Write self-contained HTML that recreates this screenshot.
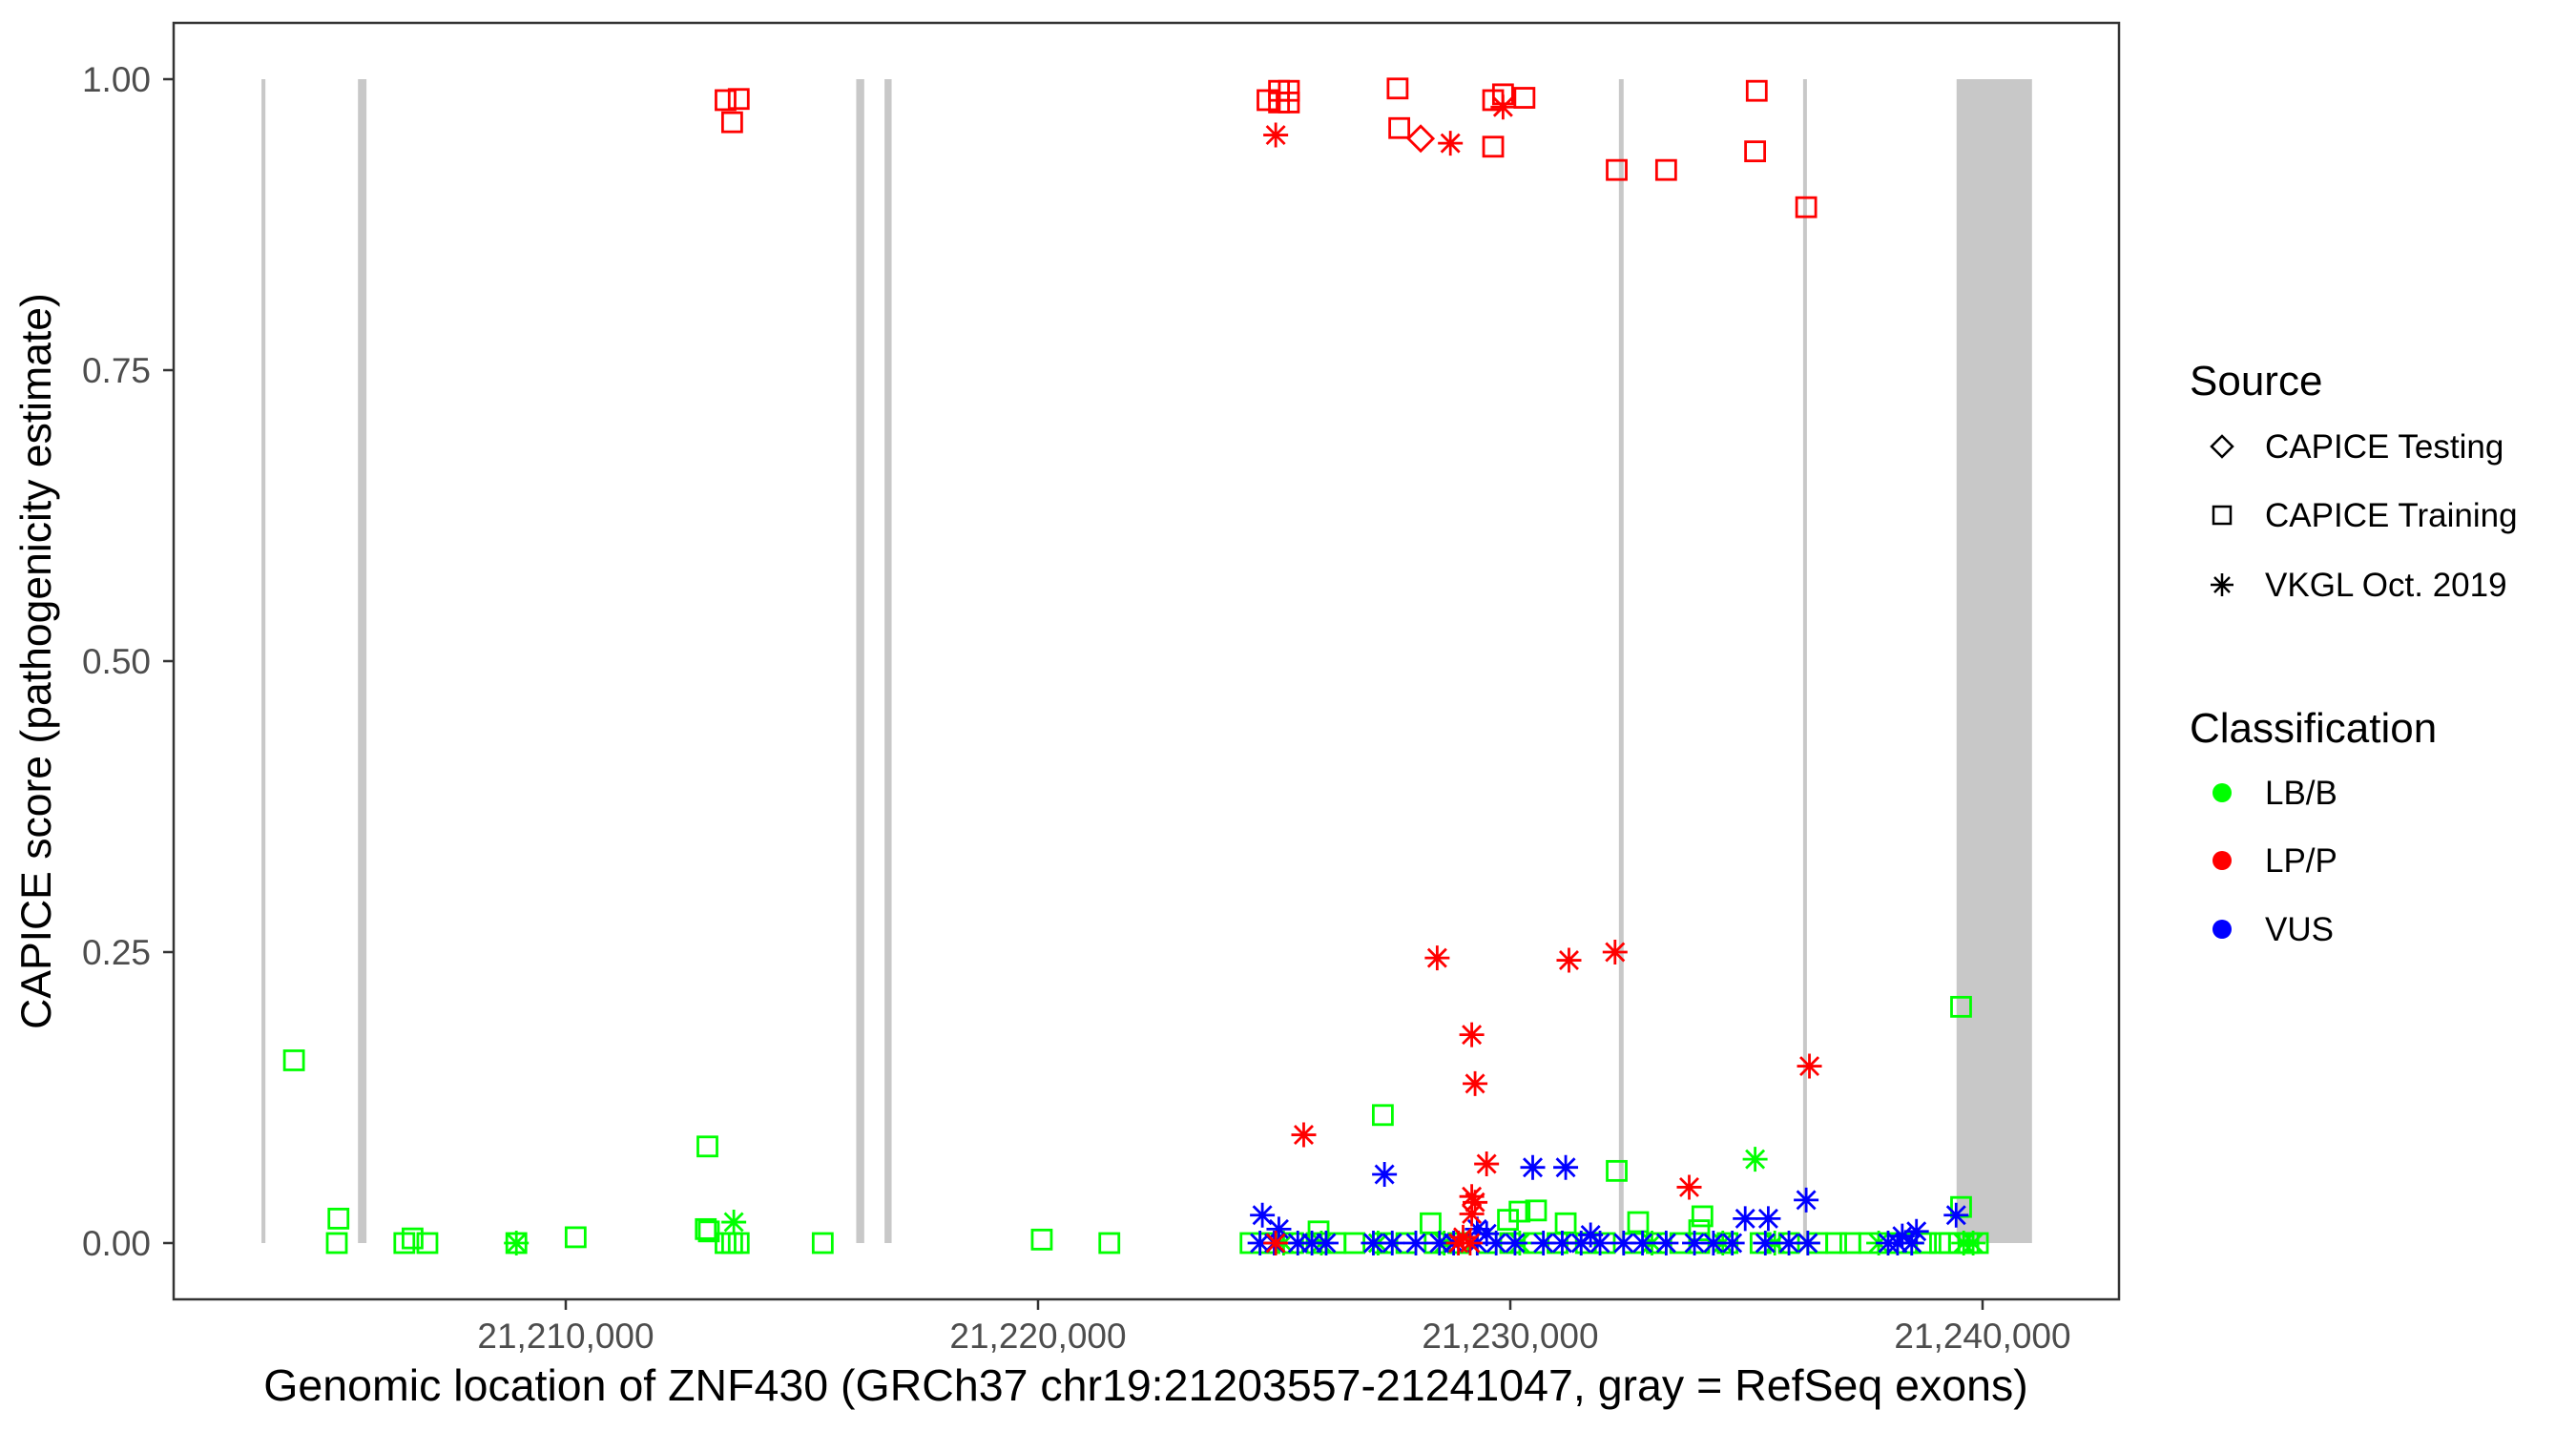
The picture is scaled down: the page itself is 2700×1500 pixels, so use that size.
<!DOCTYPE html>
<html><head><meta charset="utf-8"><style>
html,body{margin:0;padding:0;background:#fff;}
svg{display:block;font-family:"Liberation Sans",Arial,sans-serif;}
</style></head><body>
<svg id="chart" width="2700" height="1500" viewBox="0 0 2700 1500" xmlns="http://www.w3.org/2000/svg">
<rect x="0" y="0" width="2700" height="1500" fill="#fff"/>
<g id="exons"></g>
<g id="points"></g>
<rect x="182" y="24" width="2039" height="1338" fill="none" stroke="#333" stroke-width="2.5"/>
<g id="yaxis"></g>
<g id="xaxis"></g>
<text x="1201" y="1468" font-size="46.5" text-anchor="middle" fill="#000">Genomic location of ZNF430 (GRCh37 chr19:21203557-21241047, gray = RefSeq exons)</text>
<text transform="translate(53,693) rotate(-90)" font-size="44.5" text-anchor="middle" fill="#000">CAPICE score (pathogenicity estimate)</text>
<g>
<text x="2295" y="414" font-size="44" fill="#000">Source</text>
<path d="M2329 457 L2340 468 L2329 479 L2318 468 Z" fill="none" stroke="#000" stroke-width="2.5"/>
<text x="2374" y="480" font-size="35" fill="#000">CAPICE Testing</text>
<rect x="2320" y="531" width="18" height="18" fill="none" stroke="#000" stroke-width="2.5"/>
<text x="2374" y="552" font-size="35" fill="#000">CAPICE Training</text>
<path d="M2317 613 H2341 M2329 601 V625 M2321 605 L2337 621 M2337 605 L2321 621" stroke="#000" stroke-width="2.5"/>
<text x="2374" y="625" font-size="35" fill="#000">VKGL Oct. 2019</text>
<text x="2295" y="778" font-size="44" fill="#000">Classification</text>
<circle cx="2329" cy="831" r="10" fill="#00ff00"/>
<text x="2374" y="843" font-size="35" fill="#000">LB/B</text>
<circle cx="2329" cy="902" r="10" fill="#ff0000"/>
<text x="2374" y="914" font-size="35" fill="#000">LP/P</text>
<circle cx="2329" cy="974" r="10" fill="#0000ff"/>
<text x="2374" y="986" font-size="35" fill="#000">VUS</text>
</g>
</svg>
<script>
// ---- data ----
const exonStarts = [21203557, 21205600, 21216150, 21216750, 21232300, 21236200, 21239450];
const exonEnds   = [21203640, 21205780, 21216320, 21216900, 21232400, 21236260, 21241047];
const xTickValues = [21210000, 21220000, 21230000, 21240000];
const xTickLabels = ["21,210,000", "21,220,000", "21,230,000", "21,240,000"];
const yTickValues = [0, 0.25, 0.5, 0.75, 1];
const yTickLabels = ["0.00", "0.25", "0.50", "0.75", "1.00"];

// CAPICE Training, LB/B (squares, green)
const trainBenignPos = [21204245,21205187,21205152,21206582,21206756,21207070,21208954,21210209,21212965,21213000,21213030,21213383,21213523,21213662,21215441,21220080,21221510,21227301,21232253,21239545,21239545,21228312,21230196,21230545,21229951,21231173,21232707,21234067,21234000,21225940,
21224500,21224900,21225400,21225900,21226300,21226700,21227300,21227800,21228400,21228900,21229500,21230000,21230500,21231000,21231600,21232000,21232600,21233100,21233600,21234000,21234600,21235300,21235900,21236500,21236900,21237200,21237600,21238000,21238400,21238800,21239100,21239300,21239500,21239700,21239900];
const trainBenignScore = [0.157,0.021,0.0,0.0,0.004,0.0,0.0,0.005,0.012,0.083,0.01,0.0,0.0,0.0,0.0,0.003,0.0,0.11,0.062,0.203,0.031,0.017,0.027,0.028,0.02,0.017,0.018,0.023,0.011,0.01,
0,0,0,0,0,0,0,0,0,0,0,0,0,0,0,0,0,0,0,0,0,0,0,0,0,0,0,0,0,0,0,0,0,0,0];
// CAPICE Training, LP/P (squares, red)
const trainPathoPos = [21213383,21213523,21213662,21224859,21225103,21225312,21225312,21225103,21227614,21227649,21229637,21229846,21229637,21230300,21232253,21233300,21235218,21235184,21236265];
const trainPathoScore = [0.982,0.963,0.983,0.982,0.99,0.99,0.98,0.98,0.992,0.958,0.982,0.987,0.942,0.984,0.922,0.922,0.99,0.938,0.89];
// CAPICE Testing, LP/P (diamond, red)
const testPathoPos = [21228103];
const testPathoScore = [0.949];
// VKGL, LP/P (asterisk, red)
const vkglPathoPos = [21225033,21228731,21229846,21228452,21231242,21232218,21229184,21229254,21225626,21229498,21233788,21236334,21229184,21229254,21229184,21225033,21228900,21229150,21229000];
const vkglPathoScore = [0.952,0.945,0.976,0.245,0.243,0.25,0.179,0.137,0.093,0.068,0.048,0.152,0.04,0.035,0.025,0.0,0.0,0.0,0.005];
// VKGL, VUS (asterisk, blue)
const vkglVusPos = [21227336,21230475,21231173,21236265,21234974,21235463,21224750,21225100,21239440,21229300,21229500,21231700,21238300,21238600,
21224700,21225000,21225500,21225800,21226100,21227100,21227500,21228000,21228500,21228800,21229300,21229700,21230100,21230700,21231100,21231500,21231900,21232400,21232800,21233300,21233900,21234300,21234700,21235400,21235900,21236300,21238000,21238200,21238500];
const vkglVusScore = [0.059,0.065,0.065,0.037,0.021,0.021,0.024,0.012,0.024,0.012,0.008,0.007,0.006,0.01,
0,0,0,0,0,0,0,0,0,0,0,0,0,0,0,0,0,0,0,0,0,0,0,0,0,0,0,0,0];
// VKGL, LB/B (asterisk, green)
const vkglBenignPos = [21208954,21213558,21235184,21225200,21226000,21227200,21228600,21230200,21231500,21233000,21234500,21235600,21236300,21237800,21238500,21239600,21239800];
const vkglBenignScore = [0.0,0.018,0.072,0,0,0,0,0,0,0,0,0,0,0,0,0,0];

// ---- scales ----
const X0 = 21210000, PX0 = 593, PXPER = 0.0495;
function xs(v){ return PX0 + (v - X0) * PXPER; }
function ys(v){ return 1303 - v * 1220; }
const NS = "http://www.w3.org/2000/svg";
function mk(tag, attrs, parent){ const e = document.createElementNS(NS, tag); for (const k in attrs) e.setAttribute(k, attrs[k]); parent.appendChild(e); return e; }

const exG = document.getElementById('exons');
for (let i = 0; i < exonStarts.length; i++) {
  const x1 = xs(exonStarts[i]), x2 = xs(exonEnds[i]);
  const r = mk('rect', {x: x1, y: ys(1), width: Math.max(4, x2 - x1), height: ys(0) - ys(1), fill: '#c8c8c8'}, exG);
  
  
}

const yG = document.getElementById('yaxis');
yTickValues.forEach((v, i) => {
  const t = mk('line', {x1: 171, x2: 182, y1: ys(v), y2: ys(v), stroke: '#333', 'stroke-width': 2.5}, yG);
  
  
  const l = mk('text', {x: 158, y: ys(v) + 13, 'font-size': 37, 'text-anchor': 'end', fill: '#4d4d4d'}, yG);
  l.textContent = yTickLabels[i];
  
  
});
const xG = document.getElementById('xaxis');
xTickValues.forEach((v, i) => {
  const t = mk('line', {x1: xs(v), x2: xs(v), y1: 1362, y2: 1373, stroke: '#333', 'stroke-width': 2.5}, xG);
  
  
  const l = mk('text', {x: xs(v), y: 1413, 'font-size': 37, 'text-anchor': 'middle', fill: '#4d4d4d'}, xG);
  l.textContent = xTickLabels[i];
  
  
});

const pG = document.getElementById('points');
function square(x, y, c){ return mk('rect', {x: x - 10, y: y - 10, width: 20, height: 20, fill: 'none', stroke: c, 'stroke-width': 2.8}, pG); }
function diamond(x, y, c){ return mk('path', {d: `M${x} ${y-13} L${x+13} ${y} L${x} ${y+13} L${x-13} ${y} Z`, fill: 'none', stroke: c, 'stroke-width': 2.8}, pG); }
function aster(x, y, c){ return mk('path', {d: `M${x-13} ${y} H${x+13} M${x} ${y-13} V${y+13} M${x-9.5} ${y-9.5} L${x+9.5} ${y+9.5} M${x+9.5} ${y-9.5} L${x-9.5} ${y+9.5}`, stroke: c, 'stroke-width': 2.8, fill: 'none'}, pG); }

function drawSeries(pos, score, shape, color, name){
  for (let i = 0; i < pos.length; i++) {
    const e = shape(xs(pos[i]), ys(score[i]), color);
    
    
  }
}
drawSeries(trainBenignPos, trainBenignScore, square, '#00ff00', 'point-training-lbb');
drawSeries(vkglBenignPos, vkglBenignScore, aster, '#00ff00', 'point-vkgl-lbb');
drawSeries(vkglVusPos, vkglVusScore, aster, '#0000ff', 'point-vkgl-vus');
drawSeries(trainPathoPos, trainPathoScore, square, '#ff0000', 'point-training-lpp');
drawSeries(testPathoPos, testPathoScore, diamond, '#ff0000', 'point-testing-lpp');
drawSeries(vkglPathoPos, vkglPathoScore, aster, '#ff0000', 'point-vkgl-lpp');
</script>
</body></html>
